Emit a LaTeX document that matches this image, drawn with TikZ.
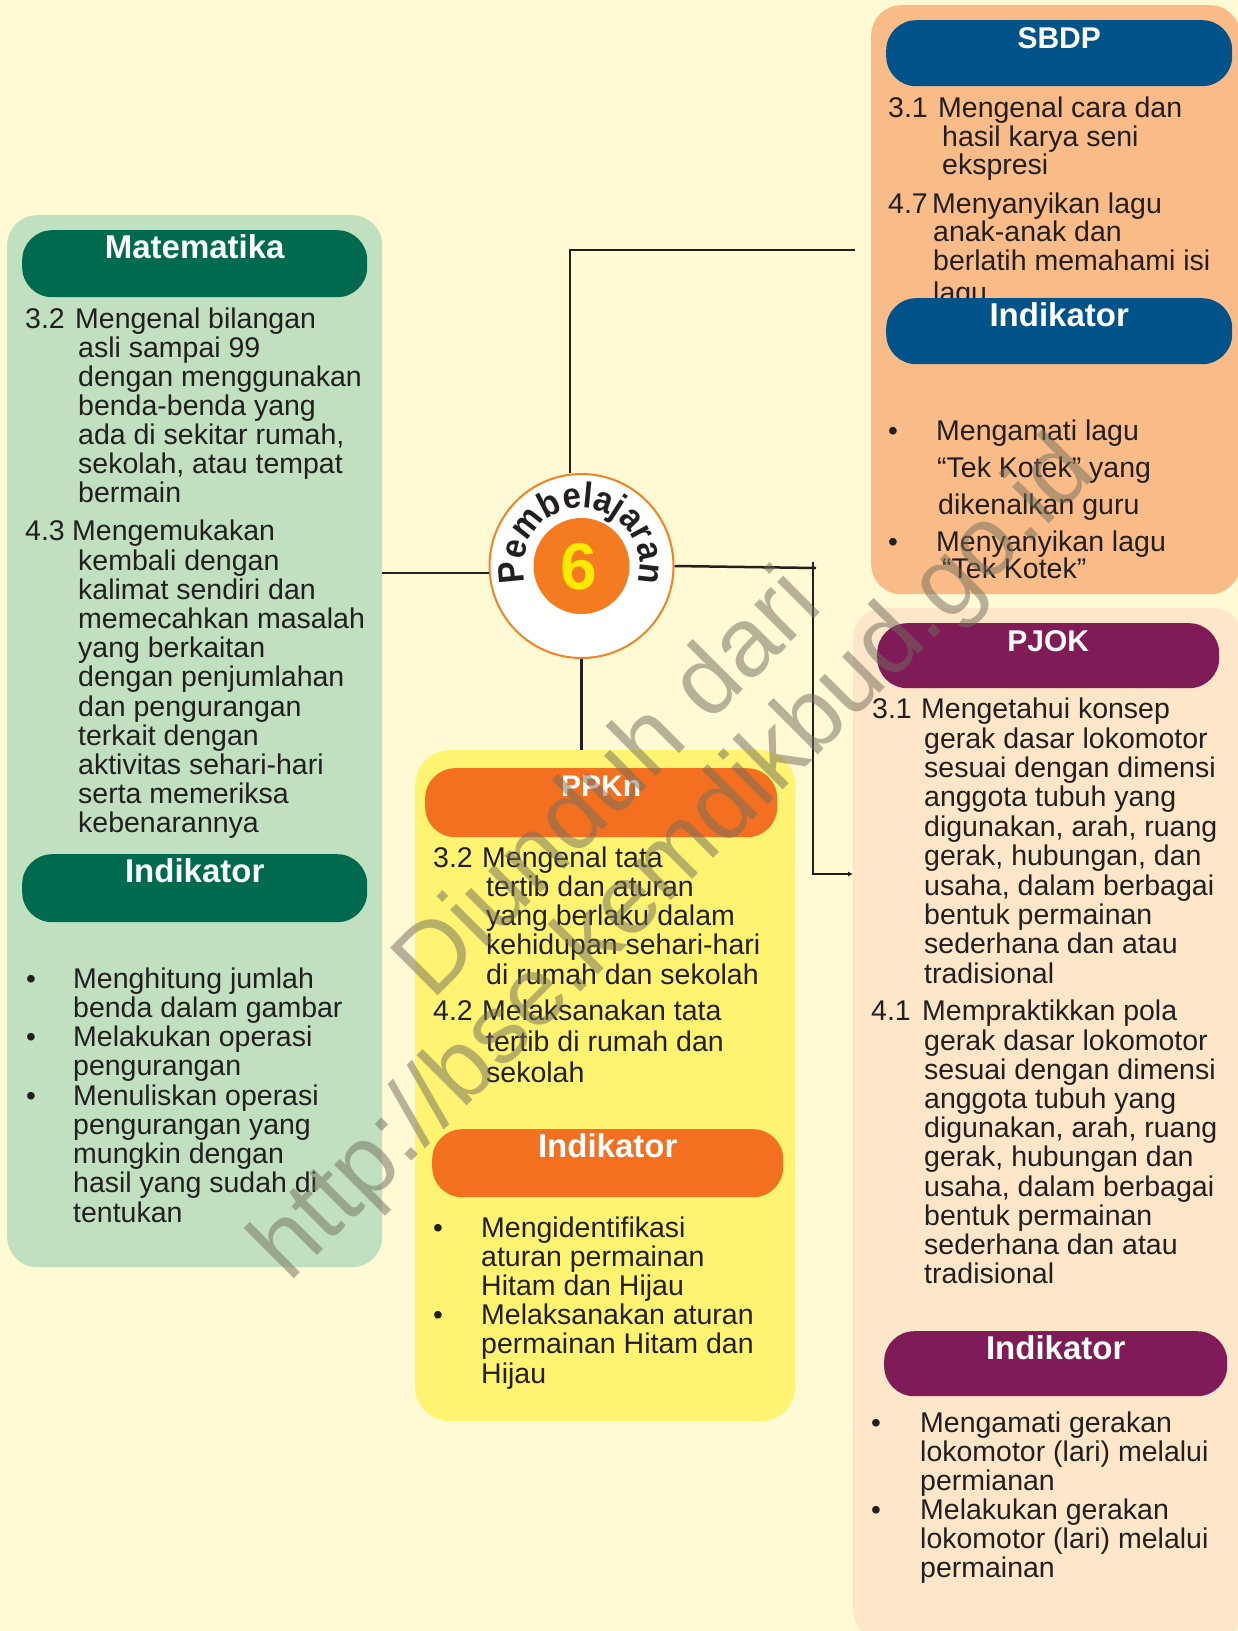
\documentclass[tikz,border=0pt]{standalone}
\usepackage{fontspec}
\setmainfont{Liberation Sans}
\newfontfamily\pembfam[FakeStretch=0.92]{Liberation Sans}
\usetikzlibrary{arrows.meta,decorations.text,calc}
\definecolor{bgc}{HTML}{FFF9D4}
\definecolor{txt}{HTML}{231F20}
\definecolor{matbg}{HTML}{C0E0BF}
\definecolor{mathd}{HTML}{006A4E}
\definecolor{sbdpbg}{HTML}{F9BC88}
\definecolor{sbdphd}{HTML}{02538A}
\definecolor{ppknbg}{HTML}{FFF372}
\definecolor{ppknhd}{HTML}{F37021}
\definecolor{pjokbg}{HTML}{FEE6C9}
\definecolor{pjokhd}{HTML}{7F1B57}
\definecolor{ringc}{HTML}{F58220}
\definecolor{innerc}{HTML}{F47B20}
\definecolor{sixc}{HTML}{FFEA00}
\definecolor{wmc}{RGB}{113,109,91}
\newcommand\bodyfont{\fontsize{28.5}{29}\selectfont}
\newcommand\headfont{\fontsize{33}{33}\selectfont\bfseries}
\newcommand\capfont{\fontsize{30}{30}\selectfont\bfseries}
\newcommand\bulfont{\fontsize{28}{28}\selectfont}
\newcommand\pembfont{\pembfam\fontsize{36}{36}\selectfont\bfseries}
\newcommand\sixfont{\fontsize{66}{66}\selectfont\bfseries}
\newcommand\wmfont{\fontsize{98}{98}\selectfont}
\newcommand\tblock[2]{\vtop{\baselineskip=#1pt\lineskiplimit=-1000pt\lineskip=0pt\relax#2}}
\newcommand\tline[1]{\hbox{#1}}
\tikzset{
  body/.style={font=\bodyfont, text=txt, inner sep=0pt, anchor=base west},
  bul/.style={font=\bulfont, text=txt, inner sep=0pt, anchor=base west},
  htext/.style={font=\headfont, text=white, inner sep=0pt, anchor=base},
  ctext/.style={htext, font=\capfont},
  obox/.style={rectangle, rounded corners=30pt, inner sep=0pt, anchor=north west, draw=none},
  conn/.style={draw=txt, line width=2.5pt},
  wm/.style={font=\wmfont, text=wmc, text opacity=0.5, inner sep=0pt, rotate=45},
}
\begin{document}
\begin{tikzpicture}[x=1pt,y=1pt]
\useasboundingbox (0,0) rectangle (1238,-1631);
\clip (0,0) rectangle (1238,-1631);
\fill[bgc] (0,0) rectangle (1238,-1631);

% outer boxes
\node[obox, fill=matbg, minimum width=375pt, minimum height=1052pt] (mat) at (7,-215) {};
\node[obox, fill=sbdpbg, minimum width=369pt, minimum height=589pt] (sbdp) at (871,-5) {};
\node[obox, fill=ppknbg, minimum width=380pt, minimum height=671pt, rounded corners=35pt] (ppkn) at (415,-750) {};
\node[obox, fill=pjokbg, minimum width=390pt, minimum height=1032pt] (pjok) at (853,-608) {};

% ---------- Matematika text
\node[body] (m1n) at (25,-328) {3.2};
\node[body] (m1a) at (75,-328) {Mengenal bilangan};
\node[body] (m1b) at (78,-357) {\tblock{29}{\tline{asli sampai 99}\tline{dengan menggunakan}\tline{benda-benda yang}\tline{ada di sekitar rumah,}\tline{sekolah, atau tempat}\tline{bermain}}};
\node[body] (m2n) at (25,-540) {4.3};
\node[body] (m2a) at (72,-540) {Mengemukakan};
\node[body] (m2b) at (78,-570) {\tblock{29.2}{\tline{kembali dengan}\tline{kalimat sendiri dan}\tline{memecahkan masalah}\tline{yang berkaitan}\tline{dengan penjumlahan}\tline{dan pengurangan}\tline{terkait dengan}\tline{aktivitas sehari-hari}\tline{serta memeriksa}\tline{kebenarannya}}};
\node[bul] (mb1) at (26,-988) {•};
\node[bul] (mb2) at (26,-1046.5) {•};
\node[bul] (mb3) at (26,-1105) {•};
\node[body] (mbt) at (73,-988) {\tblock{29.25}{\tline{Menghitung jumlah}\tline{benda dalam gambar}\tline{Melakukan operasi}\tline{pengurangan}\tline{Menuliskan operasi}\tline{pengurangan yang}\tline{mungkin dengan}\tline{hasil yang sudah di}\tline{tentukan}}};

% ---------- SBDP text
\node[body] (s1n) at (888,-117) {3.1};
\node[body] (s1a) at (938,-117) {Mengenal cara dan};
\node[body] (s1b) at (942,-146) {\tblock{28.5}{\tline{hasil karya seni}\tline{ekspresi}}};
\node[body] (s2n) at (888,-213) {4.7};
\node[body] (s2a) at (932,-213) {Menyanyikan lagu};
\node[body] (s2b) at (933,-241) {\tblock{29}{\tline{anak-anak dan}\tline{berlatih memahami isi}}};
\node[body] (s2c) at (933,-302) {lagu};
\node[bul] (sb1) at (888,-440) {•};
\node[bul] (sb2) at (888,-551) {•};
\node[body] (sbt1) at (936,-440) {Mengamati lagu};
\node[body] (sbt2) at (937,-477) {“Tek Kotek” yang};
\node[body] (sbt3) at (938,-514) {dikenalkan guru};
\node[body] (sbt4) at (936,-551) {Menyanyikan lagu};
\node[body] (sbt5) at (942,-578) {“Tek Kotek”};

% ---------- PPKn text
\node[body] (p1n) at (433,-867) {3.2};
\node[body] (p1a) at (482,-867) {Mengenal tata};
\node[body] (p1b) at (486,-896) {\tblock{29.4}{\tline{tertib dan aturan}\tline{yang berlaku dalam}\tline{kehidupan sehari-hari}\tline{di rumah dan sekolah}}};
\node[body] (p2n) at (433,-1020) {4.2};
\node[body] (p2a) at (482,-1020) {Melaksanakan tata};
\node[body] (p2b) at (486,-1051) {\tblock{31}{\tline{tertib di rumah dan}\tline{sekolah}}};
\node[bul] (pb1) at (433,-1237) {•};
\node[bul] (pb2) at (433,-1324.6) {•};
\node[body] (pbt) at (481,-1237) {\tblock{29.2}{\tline{Mengidentifikasi}\tline{aturan permainan}\tline{Hitam dan Hijau}\tline{Melaksanakan aturan}\tline{permainan Hitam dan}\tline{Hijau}}};

% ---------- PJOK text
\node[body] (j1n) at (872,-718) {3.1};
\node[body] (j1a) at (921,-718) {Mengetahui konsep};
\node[body] (j1b) at (924,-748) {\tblock{29.4}{\tline{gerak dasar lokomotor}\tline{sesuai dengan dimensi}\tline{anggota tubuh yang}\tline{digunakan, arah, ruang}\tline{gerak, hubungan, dan}\tline{usaha, dalam berbagai}\tline{bentuk permainan}\tline{sederhana dan atau}\tline{tradisional}}};
\node[body] (j2n) at (871,-1020) {4.1};
\node[body] (j2a) at (922,-1020) {Mempraktikkan pola};
\node[body] (j2b) at (924,-1050) {\tblock{29.2}{\tline{gerak dasar lokomotor}\tline{sesuai dengan dimensi}\tline{anggota tubuh yang}\tline{digunakan, arah, ruang}\tline{gerak, hubungan dan}\tline{usaha, dalam berbagai}\tline{bentuk permainan}\tline{sederhana dan atau}\tline{tradisional}}};
\node[bul] (jb1) at (871,-1432) {•};
\node[bul] (jb2) at (871,-1519) {•};
\node[body] (jbt) at (920,-1432) {\tblock{29}{\tline{Mengamati gerakan}\tline{lokomotor (lari) melalui}\tline{permianan}\tline{Melakukan gerakan}\tline{lokomotor (lari) melalui}\tline{permainan}}};

% ---------- headers
\node[obox, fill=mathd, minimum width=345pt, minimum height=67pt] (math) at (22,-230) {};
\node[obox, fill=mathd, minimum width=345pt, minimum height=68pt] (mati) at (22,-854) {};
\node[obox, fill=sbdphd, minimum width=346pt, minimum height=66pt] (sbdph) at (886,-20) {};
\node[obox, fill=sbdphd, minimum width=346pt, minimum height=66pt] (sbdpi) at (886,-298) {};
\node[obox, fill=ppknhd, minimum width=352pt, minimum height=69pt] (ppknh) at (425,-768) {};
\node[obox, fill=ppknhd, minimum width=351pt, minimum height=68pt] (ppkni) at (432,-1129) {};
\node[obox, fill=pjokhd, minimum width=342pt, minimum height=65pt] (pjokh) at (877,-623) {};
\node[obox, fill=pjokhd, minimum width=343pt, minimum height=65pt] (pjoki) at (884,-1331) {};
\node[htext] (mathT) at ([yshift=-28pt]math.north) {Matematika};
\node[htext] (matiT) at ([yshift=-28pt]mati.north) {Indikator};
\node[ctext] (sbdphT) at ([yshift=-28pt]sbdph.north) {SBDP};
\node[htext] (sbdpiT) at ([yshift=-28pt]sbdpi.north) {Indikator};
\node[ctext] (ppknhT) at ([yshift=-28pt]ppknh.north) {PPKn};
\node[htext] (ppkniT) at ([yshift=-28pt]ppkni.north) {Indikator};
\node[ctext] (pjokhT) at ([yshift=-28pt]pjokh.north) {PJOK};
\node[htext] (pjokiT) at ([yshift=-28pt]pjoki.north) {Indikator};

% ---------- centre circle
\node[circle, draw=ringc, line width=2pt, fill=white, minimum size=184pt, inner sep=0pt] (c) at (581.5,-566) {};
\node[circle, fill=innerc, minimum size=96pt, inner sep=0pt] (ci) at (581.5,-566) {};
\node[font=\sixfont, text=sixc, inner sep=0pt] (six) at (579,-567) {6};
\path[decorate, decoration={text along path, text={|\pembfont\color{txt}|Pembelajaran}, text align=center}]
  ($(c.center)+(200:58pt)$) arc[start angle=200, end angle=-20, radius=58pt];

% ---------- connectors
\coordinate (topend) at (855,-250);
\coordinate (rj) at (816,-568);
\coordinate (rv) at (813,-562);
\draw[conn] (c.north -| 570,0) |- (topend);
\draw[conn] (mat.east |- 0,-573) -- (c.west |- 0,-573);
\draw[conn] (c.south) -- (c.south |- ppkn.north);
\draw[conn] (c.east) -- (rj);
\draw[conn, -{Latex[length=5pt,width=5pt]}] (rv) |- (pjok.west |- 0,-874);

% ---------- watermark
\node[wm] (wm1) at (604,-780) {Diunduh dari};
\node[wm] (wm2) at (676,-861) {http://bse.kemdikbud.go.id};
\end{tikzpicture}
\end{document}
